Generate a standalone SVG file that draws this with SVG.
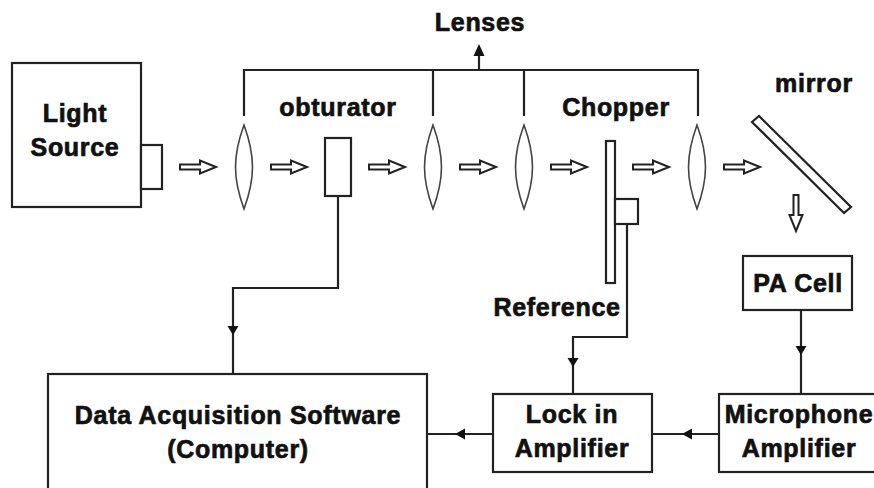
<svg xmlns="http://www.w3.org/2000/svg" width="874" height="488" viewBox="0 0 874 488">
<style>
.b{fill:#fff;stroke:#222;stroke-width:2.200}
.c{fill:none;stroke:#222;stroke-width:2.200}
.l{fill:#fff;stroke:#444;stroke-width:1.600}
.h{fill:#fff;stroke:#222;stroke-width:2;stroke-linejoin:miter}
.ah{fill:#111}
text{font-family:"Liberation Sans",Arial,sans-serif;font-weight:700;font-size:25px;letter-spacing:.7px;fill:#111;stroke:#111;stroke-width:.7;text-anchor:middle}
</style>
<defs>
<path id="ha" d="M0-2.500H20V-6.500L36 0L20 6.500V2.500H0Z"/>
<path id="ln" d="M0-42C-4-31-8.500-13-8.500 0C-8.500 13-4 31 0 42C4 31 8.500 13 8.500 0C8.500-13 4-31 0-42Z"/>
</defs>
<rect width="874" height="488" fill="#fff"/>
<g id="connectors">
<path class="c" d="M244 116V70H698V116M433 70V116M524 70V116"/>
<path class="c" d="M479 70V50"/>
<path class="ah" d="M479 44L473.500 56H484.500Z"/>
<path class="c" d="M338 196V288H233V374"/>
<path class="ah" d="M233 335L227.500 326H238.500Z"/>
<path class="c" d="M627 224V337H573V393"/>
<path class="ah" d="M573 367L567.500 358H578.500Z"/>
<path class="c" d="M801 310V393"/>
<path class="ah" d="M801 355L795.500 346H806.500Z"/>
<path class="c" d="M493 434H427"/>
<path class="ah" d="M455 434L465 428.500V439.500Z"/>
<path class="c" d="M719 434H652"/>
<path class="ah" d="M682 434L692 428.500V439.500Z"/>
</g>
<g id="light-source"><rect class="b" x="12" y="63" width="129" height="144"/><rect class="b" x="141" y="145" width="21" height="44"/><text x="75" y="122">Light</text><text x="75" y="156">Source</text></g>
<g id="lens-1"><use href="#ln" class="l" x="244" y="167"/></g>
<g id="lens-2"><use href="#ln" class="l" x="433" y="167"/></g>
<g id="lens-3"><use href="#ln" class="l" x="524" y="167"/></g>
<g id="lens-4"><use href="#ln" class="l" x="697" y="167"/></g>
<g id="beam">
<use href="#ha" class="h" x="180" y="167"/><use href="#ha" class="h" x="271" y="167"/><use href="#ha" class="h" x="369" y="167"/><use href="#ha" class="h" x="460" y="167"/><use href="#ha" class="h" x="551" y="167"/><use href="#ha" class="h" x="633" y="167"/><use href="#ha" class="h" x="724" y="167"/>
<use href="#ha" class="h" transform="translate(796 195) rotate(90)"/>
</g>
<g id="lenses-label"><text x="480" y="31">Lenses</text></g>
<g id="obturator"><rect class="b" x="325" y="138" width="26" height="58"/><text x="338" y="116">obturator</text></g>
<g id="chopper"><rect class="b" x="606" y="141" width="9" height="142"/><rect class="b" x="615" y="199" width="23" height="25"/><text x="616" y="116">Chopper</text></g>
<g id="mirror"><path class="b" d="M752 122L759 116L851 207L844 213Z"/><text x="814" y="92">mirror</text></g>
<g id="reference-label"><text x="557" y="316">Reference</text></g>
<g id="pa-cell"><rect class="b" x="743" y="256" width="109" height="54"/><text x="798" y="292">PA Cell</text></g>
<g id="lock-in"><rect class="b" x="493" y="394" width="159" height="78"/><text x="572" y="423">Lock in</text><text x="572" y="457">Amplifier</text></g>
<g id="microphone"><rect class="b" x="719" y="394" width="160" height="78"/><text x="799" y="423">Microphone</text><text x="799" y="457">Amplifier</text></g>
<g id="daq"><rect class="b" x="48" y="374" width="379" height="120"/><text x="238" y="424">Data Acquisition Software</text><text x="238" y="458">(Computer)</text></g>
</svg>
